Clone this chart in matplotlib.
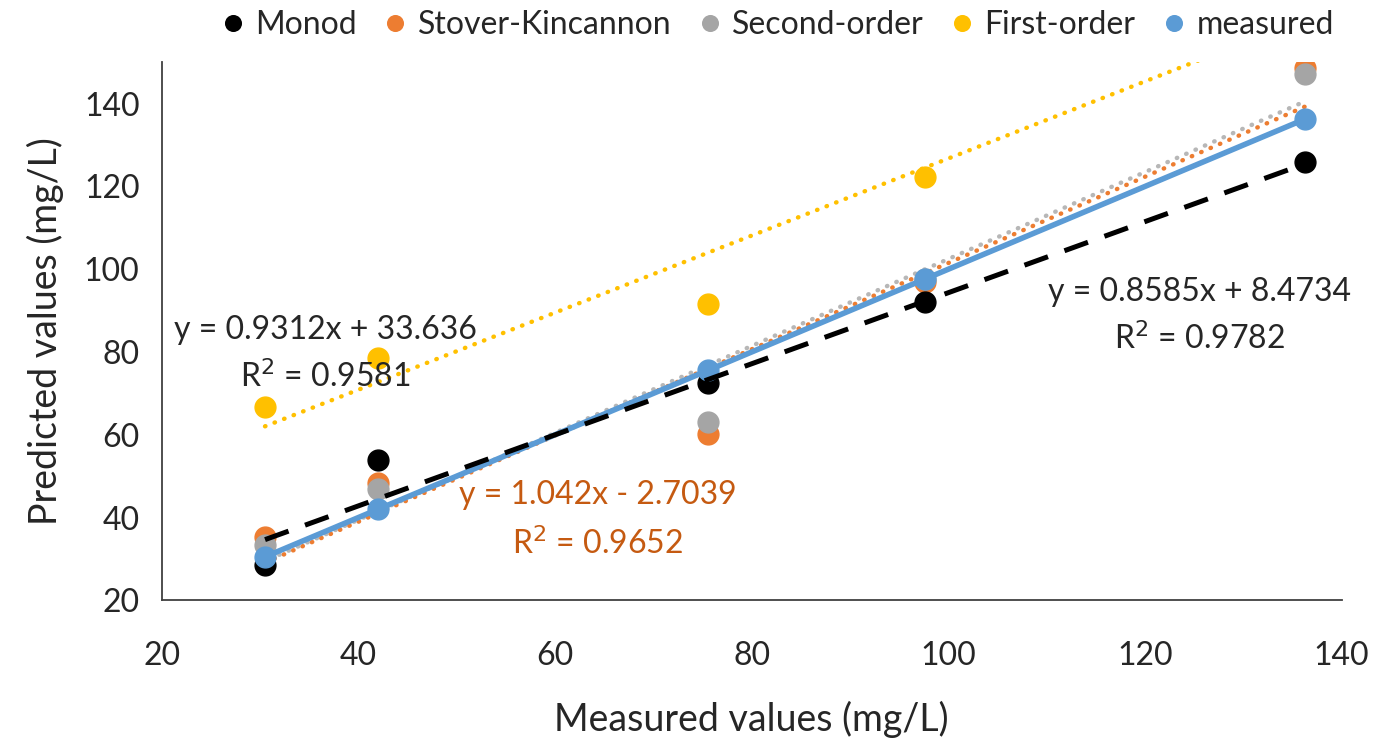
import matplotlib.pyplot as plt
import numpy as np

# measured effluent values (mg/L) and what each kinetic model predicts
measured = [30.5, 42.0, 75.6, 97.6, 136.3]
monod = [28.5, 53.8, 72.4, 92.0, 125.8]
stover = [35.2, 48.3, 60.2, 97.0, 148.6]
second_order = [33.3, 47.0, 63.2, 97.6, 147.3]
first_order = [66.6, 78.6, 91.5, 122.2, 162.0]

# trendline equations
fit_monod = (0.8585, 8.4734)
fit_stover = (1.042, -2.7039)
fit_first = (0.9312, 33.636)

plt.rcParams['font.family'] = ['Lato', 'DejaVu Sans']

BLACK = '#000000'
ORANGE = '#ED7D31'
GRAY = '#A5A5A5'
GOLD = '#FFC000'
BLUE = '#5B9BD5'
TXT = '#262626'

fig = plt.figure(figsize=(13.83, 7.42), dpi=100)
ax = fig.add_axes([0.117, 0.191, 0.853, 0.725])

x = np.array(measured)
xs = np.array([x.min(), x.max()])

ms = 15
ax.plot(x, stover, 'o', color=ORANGE, ms=ms, zorder=3, label='Stover-Kincannon')
ax.plot(x, second_order, 'o', color=GRAY, ms=ms, zorder=3.1, label='Second-order')
ax.plot(x, first_order, 'o', color=GOLD, ms=ms, zorder=3, label='First-order')
ax.plot(x, monod, 'o', color=BLACK, ms=ms, zorder=3, label='Monod')
ax.plot(x, measured, 'o', color=BLUE, ms=ms, zorder=3.3, label='measured')

# trendlines
p2 = np.polyfit(x, second_order, 1)
ax.plot(xs, fit_stover[0] * xs + fit_stover[1], color=ORANGE, lw=3.2,
        linestyle=(0, (0.1, 2.2)), dash_capstyle='round', zorder=2.5)
ax.plot(xs, p2[0] * xs + p2[1], color=GRAY, lw=3.2, alpha=0.8,
        linestyle=(1.1, (0.1, 2.2)), dash_capstyle='round', zorder=2.5)
ax.plot(xs, fit_first[0] * xs + fit_first[1], color=GOLD, lw=3.2,
        linestyle=(0, (0.1, 2.2)), dash_capstyle='round', zorder=2.5)
ax.plot(xs, xs, color=BLUE, lw=4, zorder=3.2)
ax.plot(xs, fit_monod[0] * xs + fit_monod[1], color=BLACK, lw=3.6,
        linestyle=(0, (5, 3.5)), zorder=3.4)

ax.set_xlim(20, 140)
ax.set_ylim(20, 150)
ax.set_xticks(range(20, 141, 20))
ax.set_yticks(range(20, 141, 20))
ax.tick_params(length=0, labelsize=23, colors=TXT)
ax.tick_params(axis='x', pad=29)
ax.tick_params(axis='y', pad=16)
for s in ['top', 'right']:
    ax.spines[s].set_visible(False)
for s in ['left', 'bottom']:
    ax.spines[s].set_color('#404040')
    ax.spines[s].set_linewidth(1.3)

ax.set_xlabel('Measured values (mg/L)', fontsize=27, color=TXT, labelpad=22)
ax.set_ylabel('Predicted values (mg/L)', fontsize=27, color=TXT, labelpad=14)

# equation labels
tk = dict(fontsize=23, ha='center', va='center')
ax.text(36.6, 85.4, 'y = 0.9312x + 33.636', color=TXT, **tk)
ax.text(36.6, 74.0, 'R$^2$ = 0.9581', color=TXT, **tk)
ax.text(64.3, 45.5, 'y = 1.042x - 2.7039', color='#C55A11', **tk)
ax.text(64.3, 33.8, 'R$^2$ = 0.9652', color='#C55A11', **tk)
ax.text(125.6, 94.4, 'y = 0.8585x + 8.4734', color=TXT, **tk)
ax.text(125.6, 83.2, 'R$^2$ = 0.9782', color=TXT, **tk)

handles, labels = ax.get_legend_handles_labels()
order = [3, 0, 1, 2, 4]
leg = fig.legend([handles[i] for i in order], [labels[i] for i in order],
                 loc='center', bbox_to_anchor=(0.563, 0.966), ncol=5, frameon=False,
                 fontsize=23, markerscale=0.75, handlelength=0.6, handletextpad=0.4,
                 columnspacing=0.9)
for t in leg.get_texts():
    t.set_color(TXT)

fig.savefig('out.png', dpi=100)
